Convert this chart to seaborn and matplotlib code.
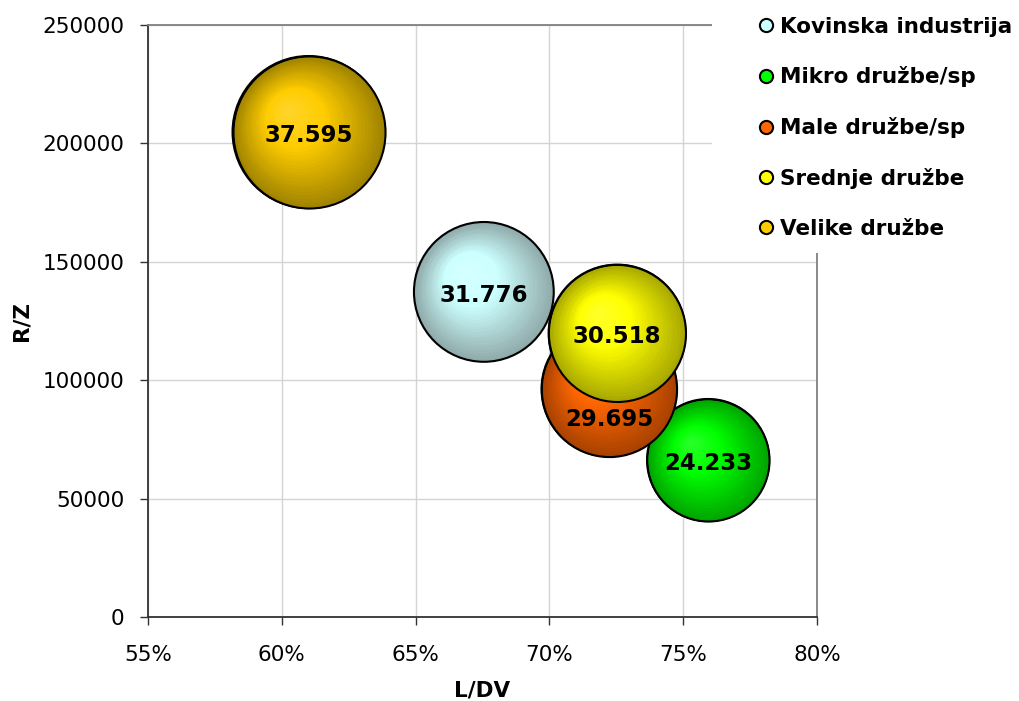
import numpy as np
import pandas as pd
import matplotlib
matplotlib.use("Agg")
import matplotlib.pyplot as plt
import matplotlib.transforms as mtransforms
from matplotlib.colors import to_rgb
from matplotlib.lines import Line2D
from matplotlib.patches import Rectangle
import seaborn as sns

# data
categories = ["Kovinska industrija", "Mikro družbe/sp", "Male družbe/sp",
              "Srednje družbe", "Velike družbe"]
ldv = [0.6755, 0.7593, 0.7223, 0.7253, 0.6100]          # L/DV
rz = [137300, 66300, 96300, 119900, 204800]              # R/Z
bubble = [31.776, 24.233, 29.695, 30.518, 37.595]       # bubble value
labels = ["31.776", "24.233", "29.695", "30.518", "37.595"]

legend_colors = ["#CCFFFF", "#00FF00", "#FF6600", "#FFFF00", "#FFCC00"]
center_colors = ["#CCFFFF", "#00FF00", "#FF6600", "#FFFF00", "#FFCC00"]
edge_colors = ["#90AAAA", "#00A500", "#A84200", "#A8A800", "#A08400"]

df = pd.DataFrame({"cat": categories, "ldv": ldv, "rz": rz, "val": bubble})

sns.set_style("whitegrid", {"grid.color": "#D4D4D4", "axes.edgecolor": "#333333",
                            "text.color": "black", "xtick.color": "black",
                            "ytick.color": "black", "axes.labelcolor": "black"})
plt.rcParams["font.family"] = ["DejaVu Sans"]

fig = plt.figure(figsize=(10.2, 7.01), dpi=100)
ax = fig.add_axes([0.1451, 0.1198, 0.801 - 0.1451, 0.9643 - 0.1198])

scale = 318.8  # marker area (pt^2) per unit of bubble value
sizes = {v: v * scale for v in bubble}

# outer shell of each bubble
sns.scatterplot(data=df, x="ldv", y="rz", hue="cat", size="val",
                palette=dict(zip(categories, edge_colors)), sizes=sizes,
                edgecolor="black", linewidth=1.5, legend=False, ax=ax, zorder=3)

# radial shading layers, each bubble drawn as one group so later ones sit on top
n_layers = 30
for i, row in df.iterrows():
    s0 = row["val"] * scale
    r_pt = np.sqrt(s0) / 2
    c_edge = np.array(to_rgb(edge_colors[i]))
    c_mid = np.array(to_rgb(center_colors[i]))
    c_hi = c_mid + (1 - c_mid) * 0.18
    base_z = 4 + i * 2
    if i > 0:
        ax.scatter([row["ldv"]], [row["rz"]], s=s0, color=c_edge,
                   edgecolor="black", linewidth=1.5, zorder=base_z)
    for k in range(1, n_layers):
        f = 1 - k / n_layers
        t = k / n_layers
        if t < 0.6:
            col = c_edge + (c_mid - c_edge) * (t / 0.6)
        else:
            col = c_mid + (c_hi - c_mid) * ((t - 0.6) / 0.4)
        shift = (1 - f) * 0.3 * r_pt / 72
        tr = ax.transData + mtransforms.ScaledTranslation(-shift, shift, fig.dpi_scale_trans)
        ax.scatter([row["ldv"]], [row["rz"]], s=s0 * f * f, color=col,
                   linewidth=0, transform=tr, zorder=base_z + 0.5)

# data labels sit above every bubble; Male label was pushed below its centre
label_dy = {"Male družbe/sp": -11500}
for i, row in df.iterrows():
    ax.text(row["ldv"], row["rz"] - 1500 + label_dy.get(row["cat"], 0), labels[i],
            ha="center", va="center", fontsize=16.5, fontweight="bold",
            color="black", zorder=25)

ax.set_xlim(0.55, 0.80)
ax.set_ylim(0, 250000)
ax.set_xticks(np.arange(0.55, 0.801, 0.05))
ax.set_xticklabels(["55%", "60%", "65%", "70%", "75%", "80%"])
ax.set_yticks(np.arange(0, 250001, 50000))
ax.set_yticklabels([str(v) for v in range(0, 250001, 50000)])
ax.tick_params(axis="both", labelsize=15.5, length=6, width=1, color="#333333",
               direction="out", left=True, bottom=True)
ax.tick_params(axis="x", pad=14)
ax.tick_params(axis="y", pad=11)
ax.set_xlabel("L/DV", fontsize=15.5, fontweight="bold", labelpad=11)
ax.set_ylabel("R/Z", fontsize=15.5, fontweight="bold", labelpad=8)

for side in ["top", "right"]:
    ax.spines[side].set_color("#808080")
    ax.spines[side].set_linewidth(1.3)
for side in ["left", "bottom"]:
    ax.spines[side].set_color("#333333")
    ax.spines[side].set_linewidth(1.3)
for side in ax.spines:
    ax.spines[side].set_zorder(20)
ax.grid(True, linewidth=1)
ax.set_axisbelow(True)

# white legend area covering the corner of the plot
fig.add_artist(Rectangle((712 / 1020, 1 - 253 / 701), 1, 1, transform=fig.transFigure,
                         facecolor="white", edgecolor="none", zorder=5))

handles = [Line2D([], [], marker="o", linestyle="", markersize=9.5,
                  markerfacecolor=c, markeredgecolor="black", markeredgewidth=1.5)
           for c in legend_colors]
leg = fig.legend(handles, categories, loc="upper left", bbox_to_anchor=(0.731, 0.993),
                 frameon=False, prop={"size": 15.5, "weight": "bold"},
                 labelspacing=1.38, handlelength=0.8, handletextpad=0.25,
                 borderpad=0.55, borderaxespad=0)
leg.set_zorder(30)

fig.savefig("out.png", dpi=100)
